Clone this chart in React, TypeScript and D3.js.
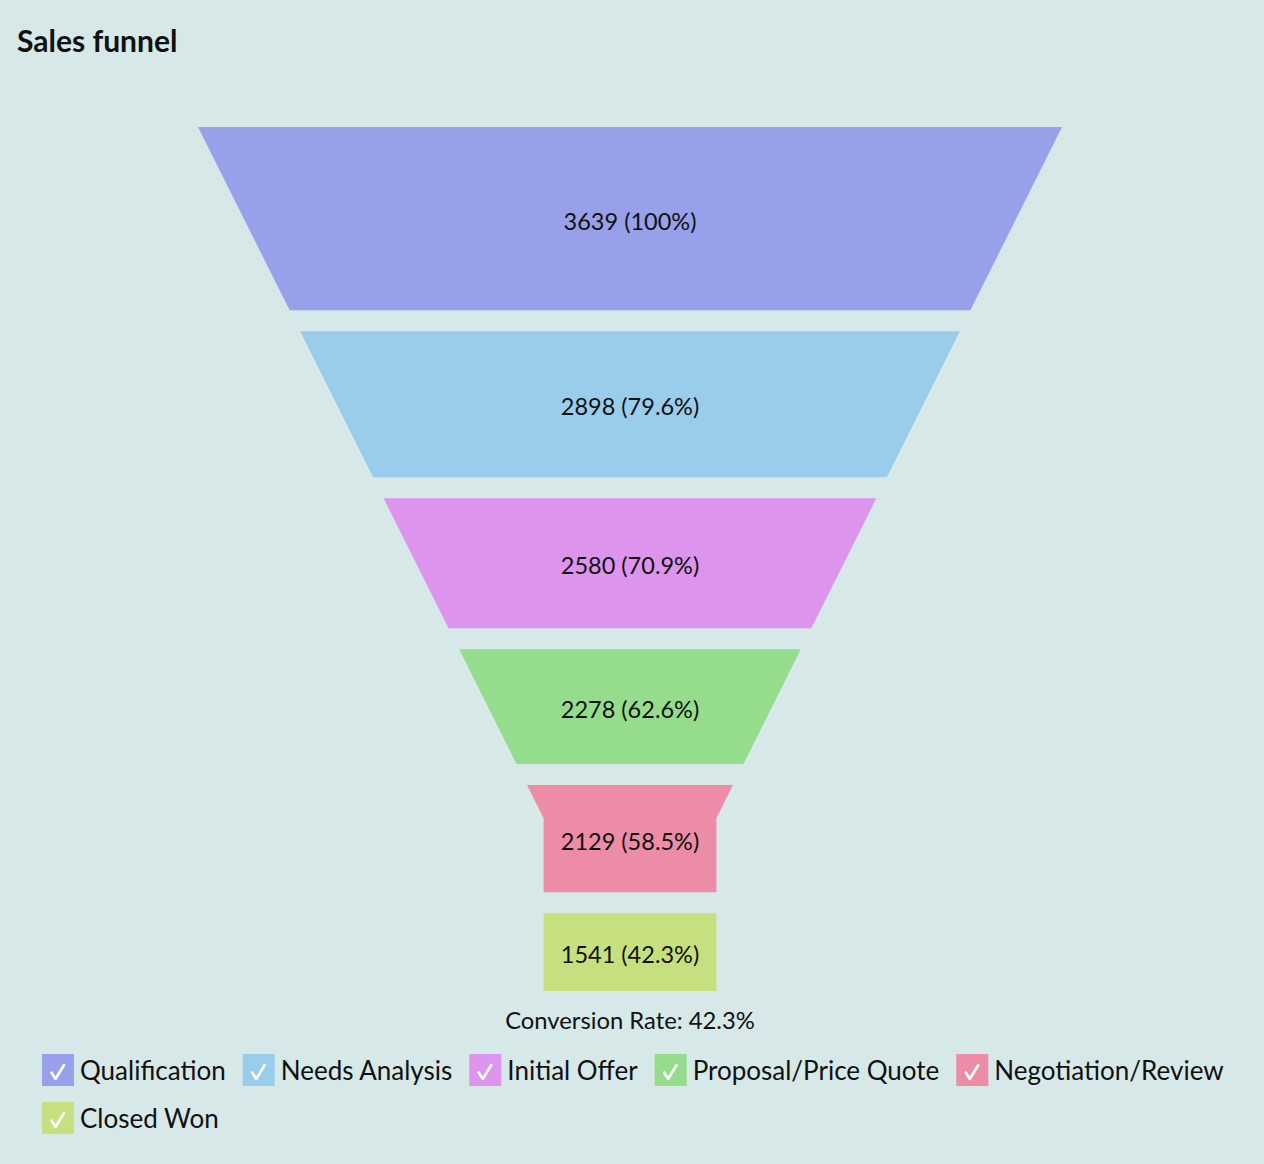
import React, { useEffect, useRef } from "react";
import * as d3 from "d3";

const categories = [
  "Qualification",
  "Needs Analysis",
  "Initial Offer",
  "Proposal/Price Quote",
  "Negotiation/Review",
  "Closed Won",
];
const values = [3639, 2898, 2580, 2278, 2129, 1541];
const colors = ["#97a0e8", "#9acdec", "#dd94ec", "#95dd8d", "#ec8ca6", "#c7e07f"];
const title = "Sales funnel";

const W = 1264;
const H = 1164;
const FONT = "Lato, 'Noto Sans', sans-serif";

export default function App() {
  const ref = useRef<SVGSVGElement | null>(null);

  useEffect(() => {
    document.body.style.margin = "0";
    const svg = d3.select(ref.current);
    svg.selectAll("*").remove();

    svg.append("rect").attr("width", W).attr("height", H).attr("fill", "#d6e8e8");

    svg
      .append("text")
      .attr("x", 17)
      .attr("y", 52)
      .attr("font-family", FONT)
      .attr("font-weight", 700)
      .attr("font-size", 30)
      .attr("fill", "#111")
      .text(title);

    // funnel geometry
    const top = 127;
    const bottom = 991;
    const cx = 630;
    const topWidth = 864;
    const neckWidth = topWidth * 0.2;
    const totalH = bottom - top;
    const neckY = bottom - totalH * 0.2;
    const gap = 21;
    const n = values.length;
    const total = d3.sum(values);
    const avail = totalH - gap * (n - 1);
    const hScale = d3.scaleLinear().domain([0, total]).range([0, avail]);
    const halfW = d3
      .scaleLinear()
      .domain([top, neckY])
      .range([topWidth / 2, neckWidth / 2])
      .clamp(true);

    const cum = d3.cumsum(values);
    const first = values[0];
    const fmtPct = (v: number) => {
      const p = (v / first) * 100;
      const s = p.toFixed(1);
      return s.endsWith(".0") ? s.slice(0, -2) : s;
    };

    const g = svg.append("g");
    values.forEach((v, i) => {
      const y0 = top + hScale(cum[i] - v) + gap * i;
      const y1 = top + hScale(cum[i]) + gap * i;
      const pts: [number, number][] = [];
      pts.push([cx - halfW(y0), y0]);
      pts.push([cx + halfW(y0), y0]);
      if (neckY > y0 && neckY < y1) pts.push([cx + halfW(neckY), neckY]);
      pts.push([cx + halfW(y1), y1]);
      pts.push([cx - halfW(y1), y1]);
      if (neckY > y0 && neckY < y1) pts.push([cx - halfW(neckY), neckY]);
      g.append("path")
        .attr("d", d3.line()(pts) + "Z")
        .attr("fill", colors[i]);
      g.append("text")
        .attr("x", cx)
        .attr("y", (y0 + y1) / 2 + 11)
        .attr("text-anchor", "middle")
        .attr("font-family", FONT)
        .attr("font-size", 23.5)
        .attr("fill", "#111")
        .text(`${v} (${fmtPct(v)}%)`);
    });

    svg
      .append("text")
      .attr("x", cx)
      .attr("y", 1029)
      .attr("text-anchor", "middle")
      .attr("font-family", FONT)
      .attr("font-size", 23.8)
      .attr("fill", "#111")
      .text(`Conversion Rate: ${fmtPct(values[n - 1])}%`);

    // legend
    const lg = svg.append("g");
    let x = 42;
    let rowY = 1054;
    const maxX = 1240;
    categories.forEach((c, i) => {
      const item = lg.append("g");
      const t = item
        .append("text")
        .attr("font-family", FONT)
        .attr("font-size", 26)
        .attr("fill", "#111")
        .text(c);
      const tw = (t.node() as SVGTextElement).getComputedTextLength();
      const itemW = 38 + tw;
      if (x + itemW > maxX && x > 42) {
        x = 42;
        rowY += 48;
      }
      item.attr("transform", `translate(${x},${rowY})`);
      item.insert("rect", "text").attr("width", 32).attr("height", 32).attr("fill", colors[i]);
      item
        .append("path")
        .attr("d", "M9.5,18.5 L13.5,25 L22,11")
        .attr("fill", "none")
        .attr("stroke", "#fff")
        .attr("stroke-width", 2.6)
        .attr("stroke-linecap", "round")
        .attr("stroke-linejoin", "round");
      t.attr("x", 38).attr("y", 26);
      x += itemW + 17;
    });
  }, []);

  return <svg ref={ref} width={W} height={H} style={{ display: "block" }} />;
}
